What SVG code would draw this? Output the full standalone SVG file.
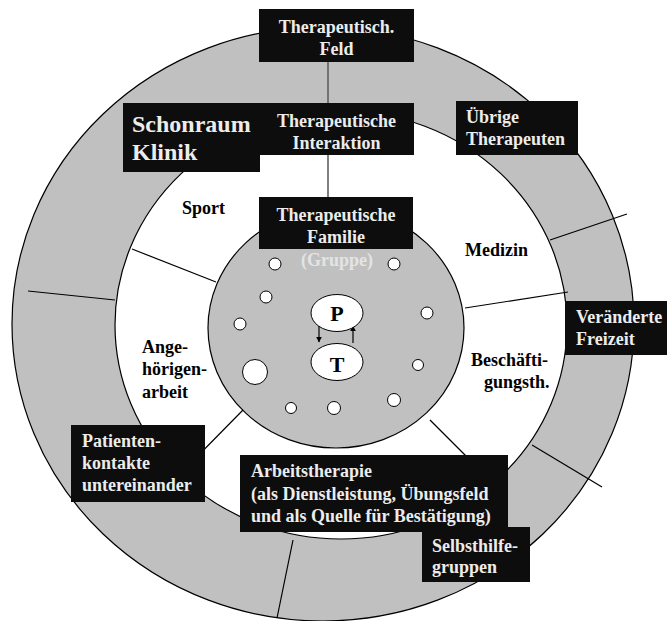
<svg xmlns="http://www.w3.org/2000/svg" width="667" height="621" viewBox="0 0 667 621">
  <style>
    .ring { stroke: #000; stroke-width: 1.2; }
    .gray { fill: #c0c0c0; }
    .white { fill: #fff; }
    .div { stroke: #000; stroke-width: 1.2; fill: none; }
    .conn { stroke: #606060; stroke-width: 1.6; fill: none; }
    .box { fill: #0d0d0d; }
    .t { font-family: "Liberation Serif", "Times New Roman", Times, serif; font-weight: bold; font-size: 18px; }
    .big { font-size: 24px; }
    .pt { font-size: 22px; }
    .lt { fill: #ececec; }
    .dk { fill: #000; }
    .dot { fill: #fff; stroke: #000; stroke-width: 1; }
  </style>
  <defs>
    <marker id="ah" viewBox="0 0 10 10" refX="9" refY="5" markerWidth="6" markerHeight="7" orient="auto" markerUnits="userSpaceOnUse">
      <path d="M0,0 L10,5 L0,10 z" fill="#000"/>
    </marker>
  </defs>

  <rect width="667" height="621" fill="#fff"/>

  <!-- concentric zones -->
  <g id="zones">
    <ellipse class="ring gray" cx="323" cy="324" rx="311" ry="297"/>
    <ellipse class="ring white" cx="341" cy="325" rx="226" ry="214"/>
    <ellipse class="ring gray" cx="336" cy="328" rx="128" ry="120"/>
  </g>

  <!-- sector dividers -->
  <g id="dividers">
    <line class="div" x1="132" y1="249" x2="216" y2="282"/>
    <line class="div" x1="465" y1="308" x2="568" y2="292"/>
    <line class="div" x1="243" y1="410" x2="182" y2="472"/>
    <line class="div" x1="430" y1="420" x2="497" y2="487"/>
    <line class="div" x1="28" y1="291" x2="115" y2="300"/>
    <line class="div" x1="550" y1="240" x2="627" y2="214"/>
    <line class="div" x1="532" y1="445" x2="602" y2="487"/>
    <line class="div" x1="293" y1="540" x2="277" y2="618"/>
  </g>

  <!-- connectors -->
  <g id="connectors">
    <line class="conn" x1="328" y1="62" x2="328" y2="103"/>
    <line class="conn" x1="328" y1="155" x2="328" y2="197"/>
    <line x1="319" y1="325" x2="319" y2="342" stroke="#000" stroke-width="1.2" marker-end="url(#ah)"/>
    <line x1="353" y1="343" x2="353" y2="326" stroke="#000" stroke-width="1.2" marker-end="url(#ah)"/>
  </g>

  <!-- group members -->
  <g id="members">
    <circle class="dot" cx="275" cy="264" r="6"/>
    <circle class="dot" cx="394" cy="264" r="6"/>
    <circle class="dot" cx="266" cy="297" r="6"/>
    <circle class="dot" cx="240" cy="324" r="6"/>
    <circle class="dot" cx="427" cy="313" r="6"/>
    <circle class="dot" cx="418" cy="365" r="5.5"/>
    <circle class="dot" cx="255" cy="372" r="12.5"/>
    <circle class="dot" cx="291" cy="408" r="5.5"/>
    <circle class="dot" cx="334" cy="408" r="6.5"/>
    <circle class="dot" cx="394" cy="400" r="6.5"/>
  </g>

  <g id="node-p">
    <ellipse class="dot" cx="337" cy="313" rx="26" ry="18.5"/>
    <text class="t pt dk" x="337" y="321" text-anchor="middle">P</text>
  </g>
  <g id="node-t">
    <ellipse class="dot" cx="337" cy="362" rx="26" ry="18.5"/>
    <text class="t pt dk" x="337" y="372" text-anchor="middle">T</text>
  </g>

  <!-- plain sector labels -->
  <g id="label-sport"><text class="t dk" x="182" y="214">Sport</text></g>
  <g id="label-medizin"><text class="t dk" x="465" y="256">Medizin</text></g>
  <g id="label-angehoerige">
    <text class="t dk" x="142" y="353">Ange-</text>
    <text class="t dk" x="142" y="375">hörigen-</text>
    <text class="t dk" x="142" y="398">arbeit</text>
  </g>
  <g id="label-beschaeftigung">
    <text class="t dk" x="471" y="366">Beschäfti-</text>
    <text class="t dk" x="484" y="388">gungsth.</text>
  </g>

  <!-- boxed labels -->
  <g id="node-feld">
    <rect class="box" x="259" y="9" width="155" height="53"/>
    <text class="t lt" x="336.5" y="33" text-anchor="middle">Therapeutisch.</text>
    <text class="t lt" x="336.5" y="55" text-anchor="middle">Feld</text>
  </g>
  <g id="node-schonraum">
    <rect class="box" x="123" y="103" width="137" height="69"/>
    <text class="t big lt" x="132" y="132">Schonraum</text>
    <text class="t big lt" x="132" y="160">Klinik</text>
  </g>
  <g id="node-interaktion">
    <rect class="box" x="259" y="103" width="155" height="52"/>
    <text class="t lt" x="336.5" y="127" text-anchor="middle">Therapeutische</text>
    <text class="t lt" x="336.5" y="149" text-anchor="middle">Interaktion</text>
  </g>
  <g id="node-familie">
    <rect class="box" x="259" y="197" width="154" height="52"/>
    <text class="t lt" x="336" y="221" text-anchor="middle">Therapeutische</text>
    <text class="t lt" x="336" y="243" text-anchor="middle">Familie</text>
    <text class="t" x="337" y="266" text-anchor="middle" fill="#e4e4e4">(Gruppe)</text>
  </g>
  <g id="node-therapeuten">
    <rect class="box" x="456" y="101" width="122" height="54"/>
    <text class="t lt" x="466" y="123">Übrige</text>
    <text class="t lt" x="466" y="145">Therapeuten</text>
  </g>
  <g id="node-freizeit">
    <rect class="box" x="565" y="301" width="102" height="54"/>
    <text class="t lt" x="576" y="323">Veränderte</text>
    <text class="t lt" x="576" y="345">Freizeit</text>
  </g>
  <g id="node-patientenkontakte">
    <rect class="box" x="71" y="425" width="134" height="77"/>
    <text class="t lt" x="82" y="447">Patienten-</text>
    <text class="t lt" x="82" y="469">kontakte</text>
    <text class="t lt" x="82" y="491">untereinander</text>
  </g>
  <g id="node-selbsthilfe">
    <rect class="box" x="422" y="527" width="108" height="55"/>
    <text class="t lt" x="432" y="552">Selbsthilfe-</text>
    <text class="t lt" x="432" y="573">gruppen</text>
  </g>
  <g id="node-arbeitstherapie">
    <rect class="box" x="240" y="455" width="268" height="77"/>
    <text class="t lt" x="251" y="477">Arbeitstherapie</text>
    <text class="t lt" x="251" y="500">(als Dienstleistung, Übungsfeld</text>
    <text class="t lt" x="251" y="522">und als Quelle für Bestätigung)</text>
  </g>
</svg>
